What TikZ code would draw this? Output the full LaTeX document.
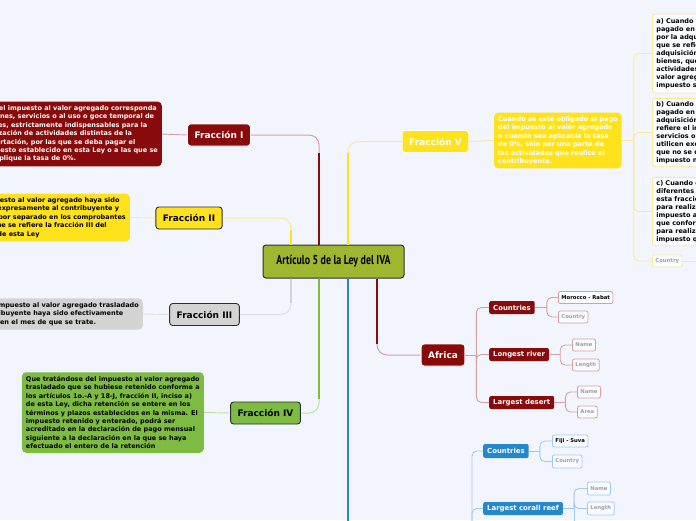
\documentclass[tikz,border=0pt]{standalone}
\usepackage{fontspec}
\setmainfont{DejaVu Sans}
\newfontfamily\titlefont[FakeStretch=0.76]{PT Sans}
\usepackage{tikz}
\usepackage{xcolor}
\definecolor{ivabg}{RGB}{242,245,253}
\definecolor{ivared}{RGB}{137,10,10}
\definecolor{ivapink}{RGB}{214,160,160}
\definecolor{ivayellow}{RGB}{255,226,28}
\definecolor{ivalyellow}{RGB}{250,234,150}
\definecolor{ivagray}{RGB}{211,211,211}
\definecolor{ivalgray}{RGB}{222,222,222}
\definecolor{ivagreen}{RGB}{126,187,66}
\definecolor{ivalgreen}{RGB}{190,225,160}
\definecolor{ivaolive}{RGB}{158,183,48}
\definecolor{ivablue}{RGB}{38,136,204}
\definecolor{ivalblue}{RGB}{160,203,240}
\definecolor{ivaedge}{RGB}{45,45,45}
\definecolor{ivaghost}{RGB}{160,160,165}
\newcommand{\ghost}[1]{\textcolor{ivaghost}{#1}}
\tikzset{
  fracbox/.style={rounded corners=3pt, line width=0.9pt, minimum height=22pt,
    inner xsep=7pt, inner ysep=2pt, font=\bfseries\fontsize{9}{10}\selectfont},
  descbox/.style={rounded corners=4pt, align=left, inner xsep=4pt, inner ysep=4pt,
    font=\bfseries\fontsize{6.5}{8.4}\selectfont},
  subbox/.style={rounded corners=3pt, align=left, inner xsep=4pt, inner ysep=3pt,
    draw=ivalyellow, line width=0.8pt, fill=white!60!ivabg, anchor=west,
    font=\bfseries\fontsize{6.5}{8}\selectfont},
  topic/.style={rounded corners=2pt, text=white, inner xsep=4pt, inner ysep=1pt,
    minimum height=13pt, anchor=west, font=\bfseries\fontsize{6.9}{8}\selectfont},
  leafbox/.style={rounded corners=2pt, fill=white!60!ivabg, line width=0.8pt,
    inner xsep=3pt, inner ysep=1pt, minimum height=12pt, anchor=west,
    font=\bfseries\fontsize{5.3}{6.5}\selectfont},
  branchline/.style={line width=0.9pt, rounded corners=5pt},
  stemline/.style={line width=1pt, rounded corners=10pt},
}

\begin{document}
\begin{tikzpicture}[x=1pt, y=-1pt]
  \useasboundingbox (0,0) rectangle (696,520);
  \clip (0,0) rectangle (696,520);
  \fill[ivabg] (0,0) rectangle (696,520);

  % centre
  \node[draw=ivaedge, line width=1pt, fill=ivaolive, rounded corners=3pt,
        minimum width=141pt, minimum height=33pt,
        font=\titlefont\bfseries\fontsize{13}{14}\selectfont] (art) at (333.5,261.5)
        {Artículo 5 de la Ley del IVA};
  \coordinate (colA) at (291,0);
  \coordinate (colB) at (319,0);
  \coordinate (colC) at (348,0);
  \coordinate (colD) at (377,0);

  % fracciones, left side
  \node[fracbox, fill=ivared, draw=white, text=white] (fI) at (219,135) {Fracción I};
  \node[descbox, fill=ivared, text=white, anchor=east] (dI) at (162,134) {%
    Que el impuesto al valor agregado corresponda\\
    a bienes, servicios o al uso o goce temporal de\\
    bienes, estrictamente indispensables para la\\
    realización de actividades distintas de la\\
    importación, por las que se deba pagar el\\
    impuesto establecido en esta Ley o a las que se\\
    les aplique la tasa de 0\%.};

  \node[fracbox, fill=ivayellow, draw=ivaedge] (fII) at (189,218) {Fracción II};
  \node[descbox, fill=ivayellow, anchor=east] (dII) at (130,217.5) {%
    Que el impuesto al valor agregado haya sido\\
    trasladado expresamente al contribuyente y\\
    que conste por separado en los comprobantes\\
    fiscales a que se refiere la fracción III del\\
    artículo 32 de esta Ley};

  \node[fracbox, fill=ivagray, draw=ivaedge] (fIII) at (204.5,314.5) {Fracción III};
  \node[descbox, fill=ivagray, anchor=east] (dIII) at (143,314) {%
    Que el impuesto al valor agregado trasladado\\
    al contribuyente haya sido efectivamente\\
    pagado en el mes de que se trate.};

  \node[fracbox, fill=ivagreen, draw=ivaedge] (fIV) at (265.5,413) {Fracción IV};
  \node[descbox, fill=ivagreen, anchor=east] (dIV) at (204,412.5) {%
    Que tratándose del impuesto al valor agregado\\
    trasladado que se hubiese retenido conforme a\\
    los artículos 1o.-A y 18-J, fracción II, inciso a)\\
    de esta Ley, dicha retención se entere en los\\
    términos y plazos establecidos en la misma. El\\
    impuesto retenido y enterado, podrá ser\\
    acreditado en la declaración de pago mensual\\
    siguiente a la declaración en la que se haya\\
    efectuado el entero de la retención};

  % fraccion V, right side
  \node[fracbox, fill=ivayellow, draw=white, text=white] (fV) at (435.5,141.5) {Fracción V};
  \node[descbox, fill=ivayellow, text=white, anchor=west, inner ysep=3.5pt] (dV) at (494,140.5) {%
    Cuando se esté obligado al pago\\
    del impuesto al valor agregado\\
    o cuando sea aplicable la tasa\\
    de 0\%, sólo por una parte de\\
    las actividades que realice el\\
    contribuyente.};
  \node[subbox, minimum height=79pt] (subA) at (652,53.5) {%
    a) Cuando el impuesto al valor agregado trasladado o\\
    pagado en la importación, corresponda a erogaciones\\
    por la adquisición de bienes distintos a las inversiones a\\
    que se refiere el inciso d) de esta fracción, por la\\
    adquisición de servicios o por el uso o goce temporal de\\
    bienes, que se utilicen exclusivamente para realizar las\\
    actividades por las que se deba pagar el impuesto al\\
    valor agregado o les sea aplicable la tasa de 0\%, dicho\\
    impuesto será acreditable en su totalidad;};
  \node[subbox, minimum height=67pt] (subB) at (652,132.5) {%
    b) Cuando el impuesto al valor agregado trasladado o\\
    pagado en la importación, corresponda a erogaciones por la\\
    adquisición de bienes distintos a las inversiones a que se\\
    refiere el inciso d) de esta fracción, por la adquisición de\\
    servicios o por el uso o goce temporal de bienes, que se\\
    utilicen exclusivamente para realizar las actividades por las\\
    que no se deba pagar el impuesto al valor agregado, dicho\\
    impuesto no será acreditable;};
  \node[subbox, minimum height=67pt] (subC) at (652,211.5) {%
    c) Cuando el contribuyente utilice indistintamente bienes\\
    diferentes a las inversiones a que se refiere el inciso d) de\\
    esta fracción, servicios o el uso o goce temporal de bienes,\\
    para realizar las actividades por las que se deba pagar el\\
    impuesto al valor agregado, para realizar actividades a las\\
    que conforme a esta Ley les sea aplicable la tasa de 0\% o\\
    para realizar las actividades por las que no se deba pagar el\\
    impuesto que corresponda};
  \node[leafbox, draw=ivalyellow] (countryV) at (652,261) {\ghost{Country}};
  \coordinate (vMore) at (700,261);

  % Africa
  \node[fracbox, fill=ivared, draw=white, text=white] (africa) at (443,355) {Africa};
  \node[topic, fill=ivared] (afCountries) at (489,307.5) {Countries};
  \node[topic, fill=ivared] (afRiver) at (489,354.5) {Longest river};
  \node[topic, fill=ivared] (afDesert) at (489,402.5) {Largest desert};
  \node[leafbox, draw=ivapink] (morocco) at (558,297.5) {Morocco - Rabat};
  \node[leafbox, draw=ivapink] (afCountry) at (558,317) {\ghost{Country}};
  \node[leafbox, draw=ivapink] (rvName) at (572,345) {\ghost{Name}};
  \node[leafbox, draw=ivapink] (rvLength) at (572,365) {\ghost{Length}};
  \node[leafbox, draw=ivapink] (dsName) at (577,392) {\ghost{Name}};
  \node[leafbox, draw=ivapink] (dsArea) at (577,412) {\ghost{Area}};

  % Oceania (its own node lies below the picture)
  \coordinate (oceania) at (348,530);
  \coordinate (ocFork) at (472,530);
  \node[topic, fill=ivablue, minimum height=14pt] (ocCountries) at (483,451) {Countries};
  \node[topic, fill=ivablue] (ocReef) at (483,508.5) {Largest corall reef};
  \node[leafbox, draw=ivalblue] (fiji) at (552,441) {Fiji - Suva};
  \node[leafbox, draw=ivalblue, minimum height=13pt] (ocCountry) at (552,461.5) {\ghost{Country}};
  \node[leafbox, draw=ivalblue, minimum height=13pt] (rfName) at (587,488.5) {\ghost{Name}};
  \node[leafbox, draw=ivalblue, minimum height=13pt] (rfLength) at (587,508.5) {\ghost{Length}};

  % stems from the centre
  \draw[stemline, ivapink] (fI.east) -| (art.north -| colB);
  \draw[ivared, line width=1.8pt] (art.north -| colB) -- ++(0,-92);
  \draw[stemline, ivalyellow] (fII.east) -| (art.north -| colA);
  \draw[ivayellow, line width=1.8pt] (art.north -| colA) -- ++(0,-15);
  \draw[stemline, ivalgray] (fIII.east) -| (art.south -| colA);
  \draw[ivagray, line width=1.8pt] (art.south -| colA) -- ++(0,24);
  \draw[stemline, ivalgreen] (fIV.east) -| (art.south -| colB);
  \draw[ivagreen, line width=1.8pt] (art.south -| colB) -- ++(0,120);
  \draw[stemline, ivalyellow] (art.north -| colC) |- (fV.west);
  \draw[ivayellow, line width=1.8pt] (art.north -| colC) -- ++(0,-92);
  \draw[stemline, ivapink] (art.south -| colD) |- (africa.west);
  \draw[ivared, line width=1.8pt] (art.south -| colD) -- ++(0,65);
  \draw[ivablue, line width=1.8pt] (art.south -| colC) -- (oceania);

  % fraccion to text
  \draw[branchline, ivapink] (dI.east) -- (fI.west);
  \draw[branchline, ivalyellow] (dII.east) -- (fII.west);
  \draw[branchline, ivalgray] (dIII.east) -- (fIII.west);
  \draw[branchline, ivalgreen] (dIV.east) -- (fIV.west);
  \draw[branchline, ivalyellow] (fV.east) -- (dV.west);

  % incisos
  \draw[branchline, ivalyellow] (dV.east) -- ++(12,0) coordinate (vFork);
  \draw[branchline, ivalyellow] (vFork) |- (subA.west);
  \draw[branchline, ivalyellow] (vFork) |- (subB.west);
  \draw[branchline, ivalyellow] (vFork) |- (subC.west);
  \draw[branchline, ivalyellow] (vFork) |- (countryV.west);
  \draw[branchline, ivalyellow] (countryV.east) -- (vMore);

  % Africa branches
  \draw[branchline, ivapink] (africa.east) -- ++(11,0) coordinate (afFork);
  \draw[branchline, ivapink] (afFork) |- (afCountries.west);
  \draw[branchline, ivapink] (afFork) |- (afRiver.west);
  \draw[branchline, ivapink] (afFork) |- (afDesert.west);
  \draw[branchline, ivapink] (afCountries.east) -- ++(12,0) coordinate (cFork);
  \draw[branchline, ivapink] (cFork) |- (morocco.west);
  \draw[branchline, ivapink] (cFork) |- (afCountry.west);
  \draw[branchline, ivapink] (afRiver.east) -- ++(11,0) coordinate (rFork);
  \draw[branchline, ivapink] (rFork) |- (rvName.west);
  \draw[branchline, ivapink] (rFork) |- (rvLength.west);
  \draw[branchline, ivapink] (afDesert.east) -- ++(11,0) coordinate (dFork);
  \draw[branchline, ivapink] (dFork) |- (dsName.west);
  \draw[branchline, ivapink] (dFork) |- (dsArea.west);

  % Oceania branches
  \draw[branchline, ivalblue] (ocFork) |- (ocCountries.west);
  \draw[branchline, ivalblue] (ocFork) |- (ocReef.west);
  \draw[branchline, ivalblue] (ocCountries.east) -- ++(11,0) coordinate (oFork);
  \draw[branchline, ivalblue] (oFork) |- (fiji.west);
  \draw[branchline, ivalblue] (oFork) |- (ocCountry.west);
  \draw[branchline, ivalblue] (ocReef.east) -- ++(11,0) coordinate (fFork);
  \draw[branchline, ivalblue] (fFork) |- (rfName.west);
  \draw[branchline, ivalblue] (fFork) |- (rfLength.west);
  \draw[branchline, ivalblue] (fFork) -- (fFork |- ocFork);
\end{tikzpicture}
\end{document}
